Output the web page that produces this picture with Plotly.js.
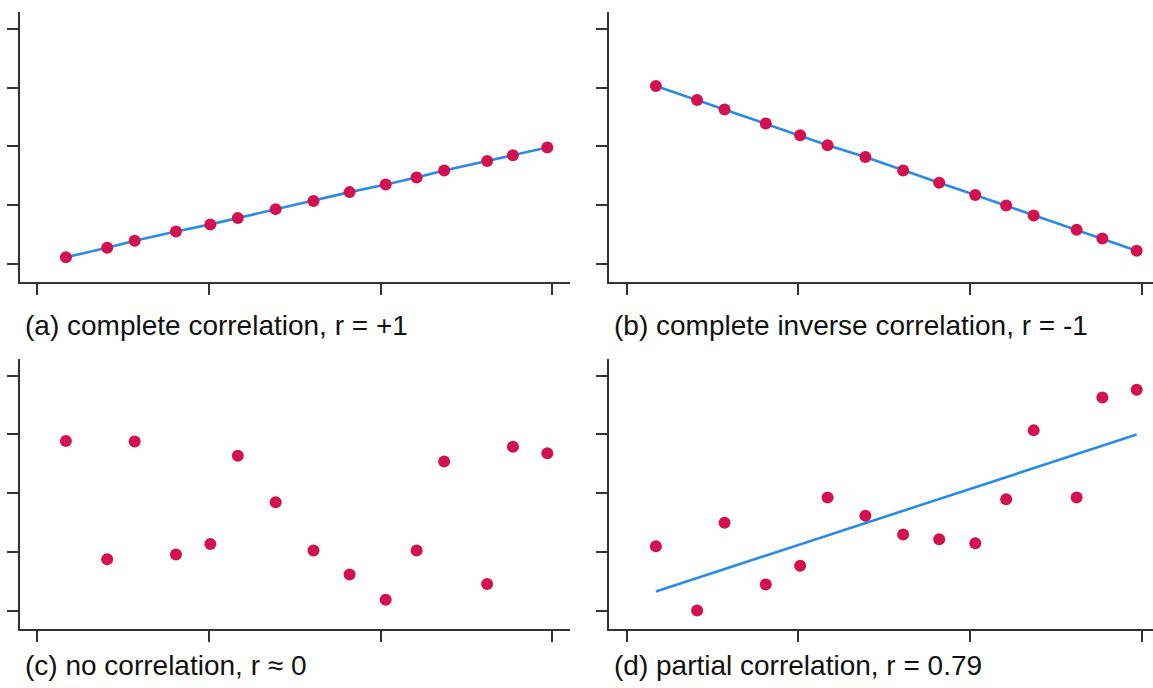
<!DOCTYPE html>
<html>
<head>
<meta charset="utf-8">
<script src="https://cdn.plot.ly/plotly-3.0.1.min.js"></script>
<style>html,body{margin:0;padding:0;background:#fff;}#chart{width:1153px;height:688px;}</style>
</head>
<body>
<div id="chart"></div>
<script>
// shared x positions of the 15 observations
const xValues = [1.7, 4.1, 5.7, 8.1, 10.1, 11.7, 13.9, 16.1, 18.2, 20.3, 22.1, 23.7, 26.2, 27.7, 29.7];
// (a) complete correlation
const yPositive = [1.1, 2.7, 3.9, 5.5, 6.7, 7.8, 9.3, 10.7, 12.2, 13.5, 14.7, 15.9, 17.5, 18.5, 19.8];
// (b) complete inverse correlation
const yNegative = [30.3, 27.9, 26.3, 23.9, 21.9, 20.2, 18.2, 15.9, 13.8, 11.7, 9.9, 8.2, 5.8, 4.3, 2.2];
// (c) no correlation
const yNone = [28.9, 8.8, 28.8, 9.6, 11.4, 26.4, 18.5, 10.3, 6.2, 1.9, 10.3, 25.4, 4.6, 27.9, 26.8];
// (d) partial correlation
const yPartial = [11.0, 0.1, 15.0, 4.5, 7.7, 19.3, 16.2, 13.0, 12.2, 11.5, 19.0, 30.7, 19.3, 36.3, 37.6];

const xTicks = [0, 10, 20, 30];
const yTicks = [0, 10, 20, 30, 40];
const panelLabels = [
  "(a) complete correlation, r = +1",
  "(b) complete inverse correlation, r = -1",
  "(c) no correlation, r \u2248 0",
  "(d) partial correlation, r = 0.79"
];

const dotColor = '#D2114E';
const lineColor = '#2A8BE0';
const axisColor = '#333333';

// least-squares fit for panel (d)
function fit(xs, ys) {
  const n = xs.length;
  const mx = xs.reduce((a, b) => a + b, 0) / n;
  const my = ys.reduce((a, b) => a + b, 0) / n;
  let sxy = 0, sxx = 0;
  for (let i = 0; i < n; i++) { sxy += (xs[i] - mx) * (ys[i] - my); sxx += (xs[i] - mx) ** 2; }
  const b = sxy / sxx, a = my - b * mx;
  return v => a + b * v;
}
const fD = fit(xValues, yPartial);
const fitX = [xValues[0], xValues[xValues.length - 1]];
const fitY = fitX.map(fD);

const marker = {color: dotColor, size: 12};
const lw = 2.6;
const traces = [
  {x: xValues, y: yPositive, mode: 'lines+markers', line: {color: lineColor, width: lw}, marker, xaxis: 'x', yaxis: 'y'},
  {x: xValues, y: yNegative, mode: 'lines+markers', line: {color: lineColor, width: lw}, marker, xaxis: 'x2', yaxis: 'y2'},
  {x: xValues, y: yNone, mode: 'markers', marker, xaxis: 'x3', yaxis: 'y3'},
  {x: fitX, y: fitY, mode: 'lines', line: {color: lineColor, width: lw}, xaxis: 'x4', yaxis: 'y4'},
  {x: xValues, y: yPartial, mode: 'markers', marker, xaxis: 'x4', yaxis: 'y4'}
];

const W = 1153, H = 688;
function ax(extra) {
  return Object.assign({
    showline: true, linecolor: axisColor, linewidth: 2,
    ticks: 'outside', ticklen: 11, tickwidth: 2, tickcolor: axisColor,
    showticklabels: false, showgrid: false, zeroline: false, fixedrange: true
  }, extra);
}
const xLeft = {domain: [20 / W, 570 / W], range: [-0.97, 31.02], tickvals: xTicks};
const xRight = {domain: [609 / W, 1], range: [-1.03, 30.65], tickvals: xTicks};
const yTop = {domain: [1 - 282 / H, 1 - 12 / H], range: [-3.12, 42.9], tickvals: yTicks};
const yBot = {domain: [1 - 629.3 / H, 1 - 359 / H], range: [-3.11, 42.83], tickvals: yTicks};

const labelPos = [[23, 326], [612, 326], [23, 665], [612, 665]];
const annotations = panelLabels.map((t, i) => ({
  text: t, xref: 'paper', yref: 'paper', x: labelPos[i][0] / W, y: 1 - labelPos[i][1] / H,
  xanchor: 'left', yanchor: 'middle', showarrow: false,
  font: {family: 'Liberation Sans, Arial, sans-serif', size: 28, color: '#111'}
}));

const layout = {
  width: W, height: H, margin: {l: 0, r: 0, t: 0, b: 0},
  paper_bgcolor: '#fff', plot_bgcolor: '#fff', showlegend: false,
  xaxis: ax(Object.assign({anchor: 'y'}, xLeft)),
  yaxis: ax(Object.assign({anchor: 'x'}, yTop)),
  xaxis2: ax(Object.assign({anchor: 'y2'}, xRight)),
  yaxis2: ax(Object.assign({anchor: 'x2'}, yTop)),
  xaxis3: ax(Object.assign({anchor: 'y3'}, xLeft)),
  yaxis3: ax(Object.assign({anchor: 'x3'}, yBot)),
  xaxis4: ax(Object.assign({anchor: 'y4'}, xRight)),
  yaxis4: ax(Object.assign({anchor: 'x4'}, yBot)),
  annotations
};
Plotly.newPlot('chart', traces, layout, {displayModeBar: false, staticPlot: true});
</script>
</body>
</html>
